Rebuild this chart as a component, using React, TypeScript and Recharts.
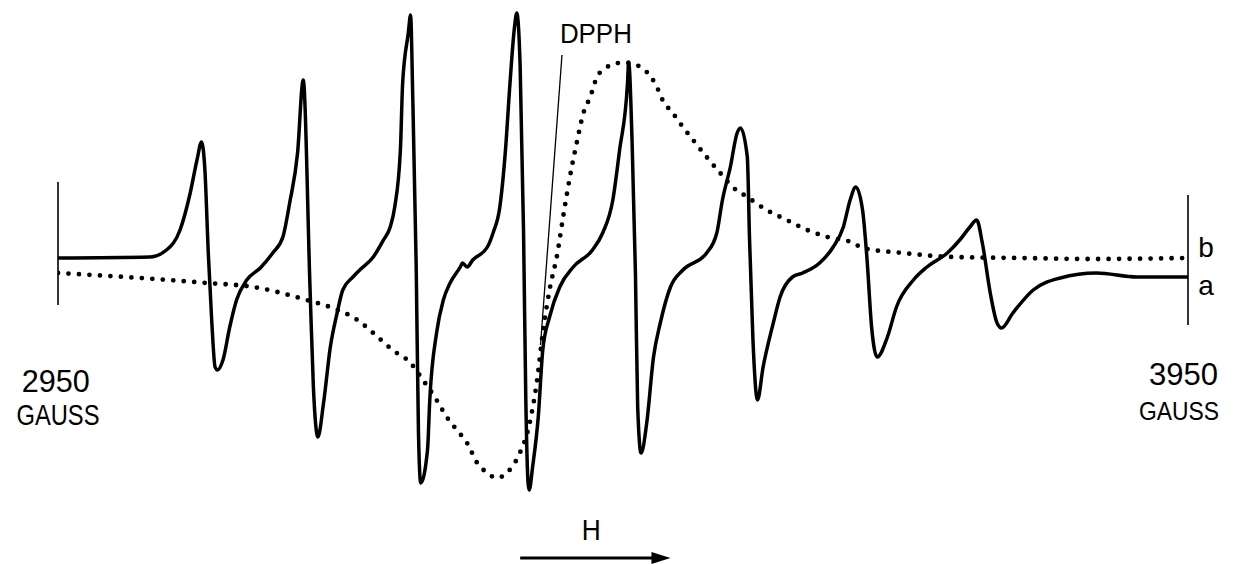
import React from "react";
import { LineChart, Line, XAxis, YAxis, ReferenceLine, ReferenceDot } from "recharts";

// Field (gauss) and derivative signal (arbitrary units) for trace a (solid)
const fieldA = [2950, 3031, 3046, 3058, 3067, 3073, 3077, 3080, 3083, 3086, 3089, 3091, 3096, 3102, 3108, 3117, 3129, 3140, 3149, 3155, 3162, 3167, 3173, 3176, 3180, 3185, 3191, 3197, 3202, 3211, 3217, 3229, 3238, 3244, 3248, 3253, 3255, 3260, 3262, 3264, 3267, 3269, 3271, 3277, 3279, 3285, 3291, 3297, 3306, 3308, 3312, 3317, 3330, 3335, 3341, 3346, 3350, 3354, 3356, 3359, 3362, 3364, 3366, 3367, 3370, 3375, 3379, 3385, 3394, 3406, 3423, 3432, 3441, 3447, 3454, 3455, 3458, 3461, 3463, 3466, 3471, 3477, 3483, 3492, 3503, 3524, 3533, 3538, 3545, 3551, 3554, 3560, 3562, 3565, 3569, 3574, 3583, 3589, 3600, 3609, 3624, 3636, 3645, 3651, 3656, 3662, 3666, 3670, 3675, 3684, 3692, 3707, 3719, 3737, 3748, 3757, 3763, 3768, 3775, 3781, 3785, 3795, 3813, 3837, 3869, 3905, 3950];
const signalA = [0, 1, 8, 28, 65, 98, 116, 88, 5, -62, -109, -112, -102, -69, -42, -22, -10, 5, 21, 55, 105, 178, -29, -129, -179, -145, -89, -55, -32, -19, -12, 1, 18, 31, 51, 108, 175, 225, 243, 158, -9, -175, -225, -192, -142, -75, -42, -25, -9, -5, -9, -2, 11, 25, 51, 108, 175, 231, 245, 191, 25, -142, -225, -232, -209, -159, -92, -59, -29, -9, 8, 25, 58, 108, 175, 196, 118, -15, -149, -195, -165, -99, -65, -29, -12, 5, 25, 58, 91, 125, 130, 101, 18, -82, -142, -109, -65, -39, -19, -15, -5, 11, 31, 58, 71, 48, -2, -69, -99, -79, -49, -22, -9, 5, 18, 31, 38, 15, -35, -65, -70, -55, -32, -20, -15, -19, -19];

// Trace b (dotted)
const fieldB = [2950, 3023, 3082, 3123, 3170, 3193, 3215, 3229, 3246, 3262, 3273, 3285, 3294, 3303, 3312, 3321, 3330, 3338, 3347, 3357, 3368, 3374, 3379, 3385, 3392, 3397, 3403, 3409, 3415, 3421, 3427, 3436, 3447, 3454, 3471, 3480, 3485, 3494, 3503, 3512, 3524, 3536, 3547, 3560, 3577, 3595, 3613, 3631, 3654, 3662, 3698, 3742, 3801, 3861, 3950];
const signalB = [-15, -20, -25, -29, -42, -50, -62, -75, -92, -105, -122, -142, -159, -172, -185, -205, -215, -220, -215, -199, -162, -122, -75, -32, 5, 41, 81, 115, 145, 161, 181, 191, 195, 195, 186, 171, 158, 145, 131, 118, 101, 85, 71, 61, 48, 38, 28, 21, 15, 10, 5, 1, 0, -1, 0];

const endLabels = ["2950", "3950"];
const unitLabel = "GAUSS";
const traceLabels = ["b", "a"];
const markerLabel = "DPPH";
const fieldLabel = "H";

const traceA = fieldA.map((g, i) => ({ g, v: signalA[i] }));
const traceB = fieldB.map((g, i) => ({ g, v: signalB[i] }));

const FONT = "'Liberation Sans', Arial, sans-serif";

const textShape = (txt: string, size: number, len?: number) => (p: any) => (
  <text
    x={p.cx}
    y={p.cy}
    textAnchor="middle"
    fontFamily={FONT}
    fontSize={size}
    fill="#000"
    {...(len ? { textLength: len, lengthAdjust: "spacingAndGlyphs" } : {})}
  >
    {txt}
  </text>
);

const arrowHead = (p: any) => (
  <polygon points={`${p.cx},${p.cy} ${p.cx - 19},${p.cy - 6} ${p.cx - 19},${p.cy + 6}`} fill="#000" />
);

export default function App() {
  return (
    <div style={{ position: "absolute", left: 0, top: 0, background: "#fff" }}>
      <LineChart width={1236} height={564} margin={{ top: 0, right: 48, bottom: 0, left: 58 }}>
        <XAxis type="number" dataKey="g" domain={[2950, 3950]} hide allowDataOverflow />
        <YAxis type="number" domain={[-306, 258]} hide width={0} allowDataOverflow />
        <ReferenceLine segment={[{ x: 2950, y: 76 }, { x: 2950, y: -47 }]} stroke="#000" strokeWidth={1.6} ifOverflow="visible" />
        <ReferenceLine segment={[{ x: 3950, y: 63 }, { x: 3950, y: -67 }]} stroke="#000" strokeWidth={1.6} ifOverflow="visible" />
        <ReferenceLine segment={[{ x: 3396, y: 203 }, { x: 3377, y: -87 }]} stroke="#000" strokeWidth={1.3} ifOverflow="visible" />
        <ReferenceLine segment={[{ x: 3359, y: -300 }, { x: 3478, y: -300 }]} stroke="#000" strokeWidth={3} ifOverflow="visible" />
        <ReferenceDot x={3492} y={-300} r={0} shape={arrowHead} ifOverflow="visible" />
        <Line data={traceB} dataKey="v" type="monotone" stroke="#000" strokeWidth={4.8} strokeDasharray="0 10.5" strokeLinecap="round" dot={false} isAnimationActive={false} />
        <Line data={traceA} dataKey="v" type="monotone" stroke="#000" strokeWidth={3.5} strokeLinejoin="round" dot={false} isAnimationActive={false} />
        <ReferenceDot x={2948} y={-134} r={0} shape={textShape(endLabels[0], 31, 68)} ifOverflow="visible" />
        <ReferenceDot x={2950} y={-167} r={0} shape={textShape(unitLabel, 29, 83)} ifOverflow="visible" />
        <ReferenceDot x={3946} y={-127} r={0} shape={textShape(endLabels[1], 31, 69)} ifOverflow="visible" />
        <ReferenceDot x={3942} y={-162} r={0} shape={textShape(unitLabel, 26, 80)} ifOverflow="visible" />
        <ReferenceDot x={3426} y={215} r={0} shape={textShape(markerLabel, 28, 72)} ifOverflow="visible" />
        <ReferenceDot x={3966} y={1} r={0} shape={textShape(traceLabels[0], 28)} ifOverflow="visible" />
        <ReferenceDot x={3966} y={-37} r={0} shape={textShape(traceLabels[1], 28)} ifOverflow="visible" />
        <ReferenceDot x={3422} y={-282} r={0} shape={textShape(fieldLabel, 30, 19)} ifOverflow="visible" />
      </LineChart>
    </div>
  );
}
